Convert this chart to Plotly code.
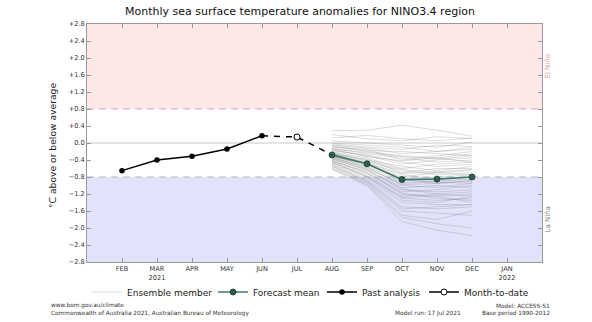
import plotly.graph_objects as go

# ---------------- data ----------------
month_labels = ["FEB", "MAR<br>2021", "APR", "MAY", "JUN", "JUL", "AUG", "SEP", "OCT", "NOV", "DEC", "JAN<br>2022"]
month_pos = list(range(1, 13))

past_x = [1, 2, 3, 4, 5]
past_y = [-0.65, -0.40, -0.31, -0.14, 0.17]

mtd_x = [6]
mtd_y = [0.14]

connector_x = [5, 6, 7]
connector_y = [0.17, 0.14, -0.28]

fc_x = [7, 8, 9, 10, 11]
fc_mean = [-0.28, -0.49, -0.86, -0.85, -0.80]

ensemble_members = [
    [0.29, 0.30, 0.42, 0.30, 0.16],
    [0.12, 0.18, 0.10, 0.05, 0.12],
    [0.05, 0.00, -0.05, -0.10, 0.02],
    [-0.02, -0.10, -0.15, -0.05, -0.08],
    [-0.05, -0.12, -0.25, -0.20, -0.15],
    [-0.08, -0.20, -0.30, -0.35, -0.25],
    [-0.10, -0.15, -0.40, -0.30, -0.20],
    [-0.12, -0.25, -0.35, -0.45, -0.40],
    [-0.15, -0.30, -0.50, -0.40, -0.35],
    [-0.18, -0.28, -0.45, -0.55, -0.50],
    [-0.20, -0.35, -0.60, -0.50, -0.45],
    [-0.22, -0.40, -0.55, -0.65, -0.55],
    [-0.25, -0.38, -0.70, -0.60, -0.60],
    [-0.25, -0.45, -0.65, -0.75, -0.70],
    [-0.28, -0.50, -0.80, -0.70, -0.65],
    [-0.30, -0.48, -0.75, -0.85, -0.80],
    [-0.30, -0.55, -0.90, -0.80, -0.75],
    [-0.32, -0.52, -0.85, -0.95, -0.90],
    [-0.33, -0.60, -0.95, -0.90, -0.85],
    [-0.35, -0.58, -1.00, -1.05, -0.95],
    [-0.36, -0.62, -1.05, -1.00, -1.05],
    [-0.38, -0.65, -1.10, -1.15, -1.10],
    [-0.40, -0.70, -1.15, -1.10, -1.00],
    [-0.42, -0.68, -1.20, -1.25, -1.20],
    [-0.44, -0.75, -1.25, -1.20, -1.15],
    [-0.46, -0.78, -1.30, -1.35, -1.30],
    [-0.48, -0.80, -1.35, -1.40, -1.25],
    [-0.50, -0.85, -1.40, -1.45, -1.45],
    [-0.52, -0.88, -1.50, -1.55, -1.50],
    [-0.55, -0.92, -1.60, -1.65, -1.70],
    [-0.58, -0.95, -1.70, -1.80, -1.60],
    [-0.62, -1.00, -1.85, -2.05, -2.18],
    [0.20, 0.10, 0.05, 0.15, 0.10],
    [0.00, -0.05, -0.10, -0.20, -0.10],
    [-0.06, -0.18, -0.20, -0.25, -0.30],
    [-0.14, -0.22, -0.32, -0.38, -0.30],
    [-0.16, -0.32, -0.42, -0.35, -0.45],
    [-0.24, -0.42, -0.62, -0.70, -0.75],
    [-0.27, -0.47, -0.72, -0.68, -0.62],
    [-0.31, -0.50, -0.88, -0.92, -0.95],
    [-0.34, -0.56, -0.98, -0.95, -0.88],
    [-0.37, -0.63, -1.08, -1.20, -1.25],
    [-0.41, -0.72, -1.18, -1.30, -1.35],
    [-0.45, -0.80, -1.28, -1.25, -1.40],
    [-0.54, -0.90, -1.55, -1.50, -1.45],
    [-0.60, -0.98, -1.75, -1.90, -2.00],
]

y_ticks = [-2.8, -2.4, -2.0, -1.6, -1.2, -0.8, -0.4, 0.0, 0.4, 0.8, 1.2, 1.6, 2.0, 2.4, 2.8]
threshold = 0.8
y_min, y_max = -2.8, 2.8


def fmt(v):
    if abs(v) < 1e-9:
        return "0.0"
    return ("+" if v > 0 else "\u2212") + f"{abs(v):.1f}"


y_ticktext = [fmt(v) for v in y_ticks]

# ---------------- figure ----------------
FONT = "DejaVu Sans"
fig = go.Figure()

ens_x, ens_y = [], []
for m in ensemble_members:
    ens_x += fc_x + [None]
    ens_y += m + [None]

fig.add_trace(go.Scatter(
    x=ens_x, y=ens_y, mode="lines", name="Ensemble member",
    line=dict(color="rgba(120,120,120,0.38)", width=0.7),
    legend="legend", hoverinfo="skip"))

fig.add_trace(go.Scatter(
    x=connector_x, y=connector_y, mode="lines", showlegend=False,
    line=dict(color="black", width=1.5, dash="6px,6px")))

fig.add_trace(go.Scatter(
    x=fc_x, y=fc_mean, mode="lines+markers", name="Forecast mean",
    line=dict(color="#3c7c62", width=1.6),
    marker=dict(color="#2e5e4c", size=6, line=dict(color="#1c3a2f", width=0.8)),
    legend="legend2"))

fig.add_trace(go.Scatter(
    x=past_x, y=past_y, mode="lines+markers", name="Past analysis",
    line=dict(color="black", width=1.5),
    marker=dict(color="black", size=5.5),
    legend="legend3"))

fig.add_trace(go.Scatter(
    x=mtd_x, y=mtd_y, mode="lines+markers", name="Month-to-date",
    line=dict(color="black", width=1.5),
    marker=dict(color="white", size=6, line=dict(color="black", width=1)),
    legend="legend4"))

shapes = [
    dict(type="rect", xref="paper", yref="y", x0=0, x1=1, y0=threshold, y1=y_max,
         fillcolor="#fde8e8", line=dict(width=0), layer="below"),
    dict(type="rect", xref="paper", yref="y", x0=0, x1=1, y0=y_min, y1=-threshold,
         fillcolor="#e2e2fb", line=dict(width=0), layer="below"),
    dict(type="line", xref="paper", yref="y", x0=0, x1=1, y0=0, y1=0,
         line=dict(color="#c8c8c8", width=1), layer="below"),
    dict(type="line", xref="paper", yref="y", x0=0, x1=1, y0=threshold, y1=threshold,
         line=dict(color="#d8a3a3", width=1.2, dash="7px,5px"), layer="below"),
    dict(type="line", xref="paper", yref="y", x0=0, x1=1, y0=-threshold, y1=-threshold,
         line=dict(color="#b4b4cc", width=1.2, dash="7px,5px"), layer="below"),
]

L, R, T, B = 87, 50, 24, 60
W, H = 592, 322
pw, ph = W - L - R, H - T - B


def px(x):
    return (x - L) / pw


def py(y):
    return (H - B - y) / ph


foot = dict(size=5.8, color="#333", family=FONT)
annotations = [
    dict(text="El Niño", xref="paper", yref="y", x=px(553), y=1.8, textangle=-90,
         showarrow=False, font=dict(size=7, color="#e89a9a", family=FONT)),
    dict(text="La Niña", xref="paper", yref="y", x=px(553), y=-1.8, textangle=-90,
         showarrow=False, font=dict(size=7, color="#888", family=FONT)),
    dict(text="°C above or below average", xref="paper", yref="paper", x=px(52), y=py(146),
         xanchor="center", yanchor="middle",
         textangle=-90, showarrow=False, font=dict(size=9.2, color="#222", family=FONT)),
    dict(text="www.bom.gov.au/climate", xref="paper", yref="paper", x=px(49), y=py(305),
         xanchor="left", yanchor="middle", showarrow=False, font=foot),
    dict(text="Commonwealth of Australia 2021, Australian Bureau of Meteorology", xref="paper",
         yref="paper", x=px(49), y=py(313), xanchor="left", yanchor="middle", showarrow=False, font=foot),
    dict(text="Model run: 17 Jul 2021", xref="paper", yref="paper", x=px(428), y=py(313),
         xanchor="center", yanchor="middle", showarrow=False, font=foot),
    dict(text="Model: ACCESS-S1", xref="paper", yref="paper", x=px(552), y=py(306),
         xanchor="right", yanchor="middle", showarrow=False, font=foot),
    dict(text="Base period 1990-2012", xref="paper", yref="paper", x=px(552), y=py(313),
         xanchor="right", yanchor="middle", showarrow=False, font=foot),
]

leg_font = dict(size=9, color="#222", family=FONT)


def leg(xpix):
    return dict(x=px(xpix), y=py(292), xanchor="left", yanchor="middle", orientation="h",
                bgcolor="rgba(0,0,0,0)", font=leg_font, itemwidth=30)


fig.update_layout(
    width=W, height=H,
    margin=dict(l=L, r=R, t=T, b=B),
    paper_bgcolor="white", plot_bgcolor="white",
    font=dict(family=FONT, color="#222"),
    title=dict(text="Monthly sea surface temperature anomalies for NINO3.4 region",
               x=300 / W, xanchor="center", y=1 - 11 / H, yanchor="middle",
               font=dict(size=11, color="#111", family=FONT)),
    showlegend=True,
    legend=leg(87), legend2=leg(213), legend3=leg(322), legend4=leg(424),
    shapes=shapes, annotations=annotations,
    xaxis=dict(range=[0, 13], tickvals=month_pos, ticktext=month_labels,
               showgrid=False, zeroline=False, showline=True, linecolor="#999", linewidth=1,
               mirror="ticks", ticks="inside", ticklen=4, tickcolor="#999",
               tickfont=dict(size=6.6, color="#333", family=FONT), fixedrange=True),
    yaxis=dict(range=[y_min, y_max], tickvals=y_ticks, ticktext=y_ticktext,
               showgrid=False, zeroline=False, showline=True, linecolor="#999", linewidth=1,
               mirror="ticks", ticks="inside", ticklen=4, tickcolor="#999",
               tickfont=dict(size=6.6, color="#333", family=FONT), fixedrange=True),
)

fig.write_html("out.html")
